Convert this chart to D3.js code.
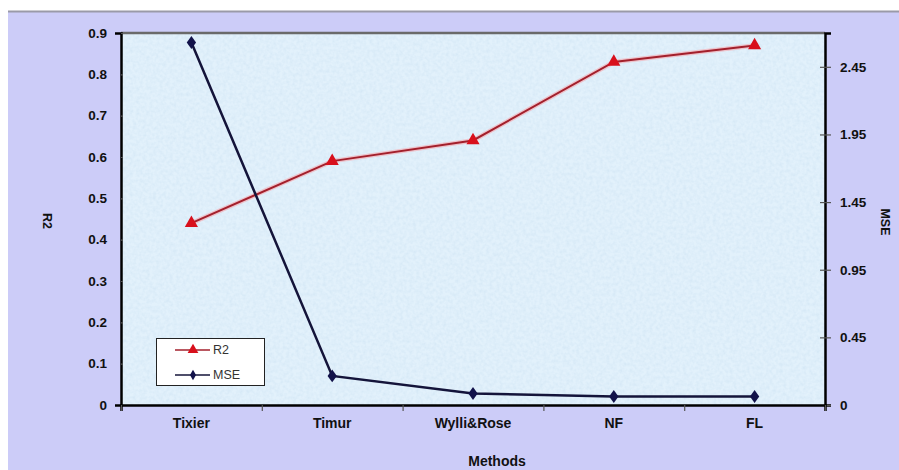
<!DOCTYPE html>
<html><head><meta charset="utf-8">
<script src="https://cdn.jsdelivr.net/npm/d3@7/dist/d3.min.js"></script>
<style>body{margin:0;background:#fff}svg{display:block}</style>
</head><body>
<svg id="c" width="899" height="470"></svg>
<script>
const categories = ["Tixier","Timur","Wylli&Rose","NF","FL"];
const r2Values = [0.44, 0.59, 0.64, 0.83, 0.87];
const mseValues = [2.63, 0.165, 0.035, 0.013, 0.013];
const leftTicks = [0,0.1,0.2,0.3,0.4,0.5,0.6,0.7,0.8,0.9];
const leftTickLabels = ["0","0.1","0.2","0.3","0.4","0.5","0.6","0.7","0.8","0.9"];
const rightTicks = [-0.05,0.45,0.95,1.45,1.95,2.45];
const rightTickLabels = ["0","0.45","0.95","1.45","1.95","2.45"];

const svg = d3.select("#c");
const W = 899, H = 470;
const m = {l:121, r:825, t:33, b:405};
const font = "'Liberation Sans', Arial, sans-serif";

// background
svg.append("rect").attr("x",8).attr("y",12).attr("width",W-8).attr("height",H-12).attr("fill","#ccccf8");
svg.append("line").attr("x1",8).attr("x2",W).attr("y1",11.5).attr("y2",11.5).attr("stroke","#9a9aa8").attr("stroke-width",2);

const defs = svg.append("defs");
const f = defs.append("filter").attr("id","tex").attr("x",0).attr("y",0).attr("width","100%").attr("height","100%");
f.append("feTurbulence").attr("type","fractalNoise").attr("baseFrequency",0.3).attr("numOctaves",2).attr("seed",3).attr("result","n");
f.append("feColorMatrix").attr("in","n").attr("type","matrix")
 .attr("values","0 0 0 0 0.66  0 0 0 0 0.80  0 0 0 0 0.92  0 0 0 1.6 -0.55").attr("result","c");
f.append("feComposite").attr("in","c").attr("in2","SourceGraphic").attr("operator","over");

const x = d3.scaleBand().domain(categories).range([m.l, m.r]).padding(0);
const yL = d3.scaleLinear().domain([0,0.9]).range([m.b, m.t]);
const yR = d3.scaleLinear().domain([-0.05,2.7]).range([m.b, m.t]);

svg.append("rect").attr("x",m.l).attr("y",m.t).attr("width",m.r-m.l).attr("height",m.b-m.t)
  .attr("fill","#e2f1fb").attr("filter","url(#tex)");
svg.append("line").attr("x1",m.l).attr("x2",m.r).attr("y1",m.t).attr("y2",m.t).attr("stroke","#6a6a6a").attr("stroke-width",2.5);

// axes
const gL = svg.append("g").attr("transform",`translate(${m.l},0)`)
  .call(d3.axisLeft(yL).tickValues(leftTicks).tickFormat((d,i)=>leftTickLabels[i]).tickSize(6).tickPadding(8));
const gR = svg.append("g").attr("transform",`translate(${m.r},0)`)
  .call(d3.axisRight(yR).tickValues(rightTicks).tickFormat((d,i)=>rightTickLabels[i]).tickSize(6).tickPadding(9));
const bandEdges = categories.map(c=>x(c)).concat([m.r]);
const xEdge = d3.scaleLinear().domain([m.l,m.r]).range([m.l,m.r]);
const gB = svg.append("g").attr("transform",`translate(0,${m.b})`)
  .call(d3.axisBottom(xEdge).tickValues(bandEdges).tickFormat("").tickSize(6));
const gBL = svg.append("g").attr("transform",`translate(0,${m.b})`)
  .call(d3.axisBottom(x).tickSize(0).tickPadding(13));
gBL.select(".domain").remove();
[gL,gR,gB].forEach(g=>{
  g.select(".domain").attr("stroke","#000").attr("stroke-width",2.5);
  g.selectAll(".tick line").attr("stroke","#555").attr("stroke-width",1.2);
});
gR.selectAll(".tick line").attr("x1",-5);
gL.selectAll(".tick line").attr("x2",2);
[gL,gR,gBL].forEach(g=>g.selectAll("text").attr("font-family",font).attr("font-size",13.5).attr("font-weight","bold").attr("fill","#111"));
gBL.selectAll("text").attr("font-size",14);

// lines
const lineR2 = d3.line().x((d,i)=>x(categories[i])+x.bandwidth()/2).y(d=>yL(d));
const lineMSE = d3.line().x((d,i)=>x(categories[i])+x.bandwidth()/2).y(d=>yR(d));
svg.append("path").attr("d",lineR2(r2Values)).attr("fill","none").attr("stroke","#f4b0b8").attr("stroke-width",4.5).attr("opacity",0.7);
svg.append("path").attr("d",lineR2(r2Values)).attr("fill","none").attr("stroke","#a3202c").attr("stroke-width",2);
svg.append("path").attr("d",lineMSE(mseValues)).attr("fill","none").attr("stroke","#14143a").attr("stroke-width",2.5);

const tri = d3.symbol().type(d3.symbolTriangle).size(75);
const dia = d3.symbol().type(d3.symbolDiamond).size(48);
const triS = d3.symbol().type(d3.symbolTriangle).size(50);
const diaS = d3.symbol().type(d3.symbolDiamond).size(32);
svg.selectAll(".r2m").data(r2Values).join("path")
  .attr("transform",(d,i)=>`translate(${x(categories[i])+x.bandwidth()/2},${yL(d)})`)
  .attr("d",tri).attr("fill","#d8101c");
svg.selectAll(".msem").data(mseValues).join("path")
  .attr("transform",(d,i)=>`translate(${x(categories[i])+x.bandwidth()/2},${yR(d)}) scale(1.25,1)`)
  .attr("d",dia).attr("fill","#12124a");

// axis titles
svg.append("text").attr("transform","translate(47,221) rotate(90)").attr("text-anchor","middle").attr("dominant-baseline","central")
  .attr("font-family",font).attr("font-weight","bold").attr("font-size",12.5).attr("fill","#111").text("R2");
svg.append("text").attr("transform","translate(885,222) rotate(90)").attr("text-anchor","middle").attr("dominant-baseline","central")
  .attr("font-family",font).attr("font-weight","bold").attr("font-size",12.5).attr("fill","#111").text("MSE");
svg.append("text").attr("x",497).attr("y",461).attr("text-anchor","middle").attr("dominant-baseline","central")
  .attr("font-family",font).attr("font-weight","bold").attr("font-size",14).attr("fill","#111").text("Methods");

// legend
const lg = svg.append("g");
lg.append("rect").attr("x",156.5).attr("y",338.5).attr("width",108).attr("height",47).attr("fill","#fff").attr("stroke","#222").attr("stroke-width",1);
const legendItems = [{name:"R2",col:"#a3202c",mcol:"#d8101c",sym:triS},{name:"MSE",col:"#14143a",mcol:"#12124a",sym:diaS}];
legendItems.forEach((it,i)=>{
  const yy = 350 + i*25;
  lg.append("line").attr("x1",175).attr("x2",210).attr("y1",yy).attr("y2",yy).attr("stroke",it.col).attr("stroke-width",1.5);
  lg.append("path").attr("transform",`translate(193,${yy})`).attr("d",it.sym).attr("fill",it.mcol);
  lg.append("text").attr("x",213).attr("y",yy).attr("dominant-baseline","central").attr("font-family",font).attr("font-size",12.5).attr("fill","#333").text(it.name);
});
</script>
</body></html>
